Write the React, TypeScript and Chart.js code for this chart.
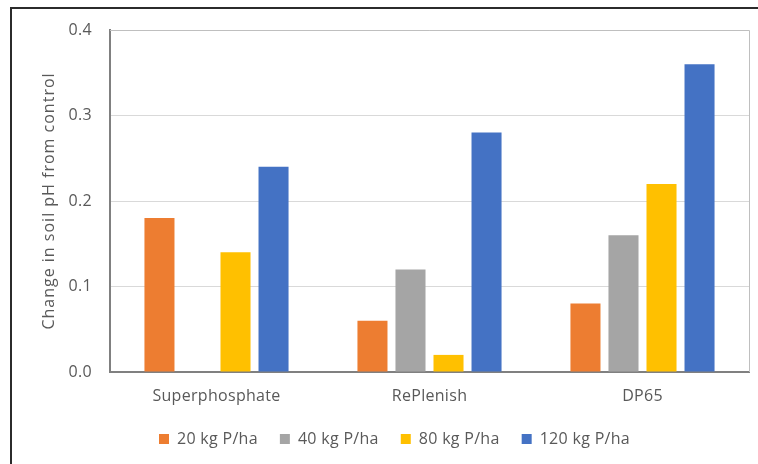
import React, { useEffect, useRef } from "react";
import { Chart, registerables } from "chart.js";

Chart.register(...registerables);

const categories = ["Superphosphate", "RePlenish", "DP65"];
const seriesLabels = ["20 kg P/ha", "40 kg P/ha", "80 kg P/ha", "120 kg P/ha"];
const series20 = [0.18, 0.06, 0.08];
const series40 = [null, 0.12, 0.16];
const series80 = [0.14, 0.02, 0.22];
const series120 = [0.24, 0.28, 0.36];
const seriesColors = ["#ED7D31", "#A5A5A5", "#FFC000", "#4472C4"];
const yTicks = [0, 0.1, 0.2, 0.3, 0.4];
const yTitle = "Change in soil pH from control";

const FONT = "'Open Sans', Lato, sans-serif";
const TEXT = "#595959";
const SPACING = "0.3px";

const framePlugin = {
  id: "frame",
  beforeUpdate(chart: any) {
    chart.ctx.letterSpacing = SPACING;
  },
  beforeLayout(chart: any) {
    chart.ctx.letterSpacing = SPACING;
  },
  beforeDraw(chart: any) {
    const ctx = chart.ctx;
    ctx.letterSpacing = SPACING;
    ctx.save();
    ctx.fillStyle = "#ffffff";
    ctx.fillRect(0, 0, chart.width, chart.height);
    ctx.fillStyle = "#2b2b2b";
    ctx.fillRect(10, 7, chart.width - 10, 2);
    ctx.fillRect(10, 7, 2, chart.height - 7);
    ctx.restore();
  },
  afterDatasetsDraw(chart: any) {
    const { ctx, chartArea } = chart;
    ctx.save();
    ctx.strokeStyle = "#BFBFBF";
    ctx.lineWidth = 1;
    ctx.beginPath();
    ctx.moveTo(chartArea.left, chartArea.top + 0.5);
    ctx.lineTo(chartArea.right + 0.5, chartArea.top + 0.5);
    ctx.lineTo(chartArea.right + 0.5, chartArea.bottom);
    ctx.stroke();
    ctx.restore();
  },
};

export default function App() {
  const ref = useRef<HTMLCanvasElement | null>(null);
  useEffect(() => {
    document.body.style.margin = "0";
    const data = [series20, series40, series80, series120];
    const chart = new Chart(ref.current as HTMLCanvasElement, {
      type: "bar",
      data: {
        labels: categories,
        datasets: seriesLabels.map((l, i) => ({
          label: l,
          data: data[i] as any,
          backgroundColor: seriesColors[i],
          borderWidth: 0,
          categoryPercentage: 0.714,
          barPercentage: 0.79,
        })),
      },
      options: {
        animation: false,
        responsive: false,
        maintainAspectRatio: false,
        layout: { padding: { top: 30, right: 9, left: 40, bottom: 7 } },
        plugins: {
          legend: {
            position: "bottom",
            labels: {
              boxWidth: 10,
              boxHeight: 10,
              padding: 22,
              color: TEXT,
              font: { family: FONT, size: 16 },
            },
          },
          tooltip: { enabled: false },
        },
        scales: {
          x: {
            grid: { display: false, drawTicks: false },
            border: { display: true, color: "#808080", width: 2 },
            ticks: { color: TEXT, font: { family: FONT, size: 16 }, padding: 15 },
            afterFit(scale: any) {
              scale.height = 37;
            },
          },
          y: {
            min: 0,
            max: 0.4,
            afterBuildTicks(scale: any) {
              scale.ticks = yTicks.map((v) => ({ value: v }));
            },
            grid: { color: "#D9D9D9", drawTicks: false, lineWidth: 1 },
            border: { display: true, color: "#808080", width: 2 },
            ticks: {
              color: TEXT,
              font: { family: FONT, size: 16 },
              padding: 18,
              callback: (v: any) => Number(v).toFixed(1),
            },
            title: {
              display: true,
              text: yTitle,
              color: TEXT,
              font: { family: FONT, size: 16 },
              padding: { top: 0, bottom: 0 },
            },
            afterFit(scale: any) {
              scale.width = 70;
              if (!scale.__patched) {
                const orig = scale.drawTitle;
                scale.drawTitle = function (...args: any[]) {
                  const ctx = this.ctx;
                  ctx.letterSpacing = "1px";
                  orig.apply(this, args);
                  ctx.letterSpacing = SPACING;
                };
                scale.__patched = true;
              }
            },
          },
        },
      },
      plugins: [framePlugin],
    });
    return () => chart.destroy();
  }, []);
  return (
    <div style={{ position: "absolute", left: 0, top: 0, width: 758, height: 464 }}>
      <canvas ref={ref} width={758} height={464} style={{ width: 758, height: 464 }} />
    </div>
  );
}
